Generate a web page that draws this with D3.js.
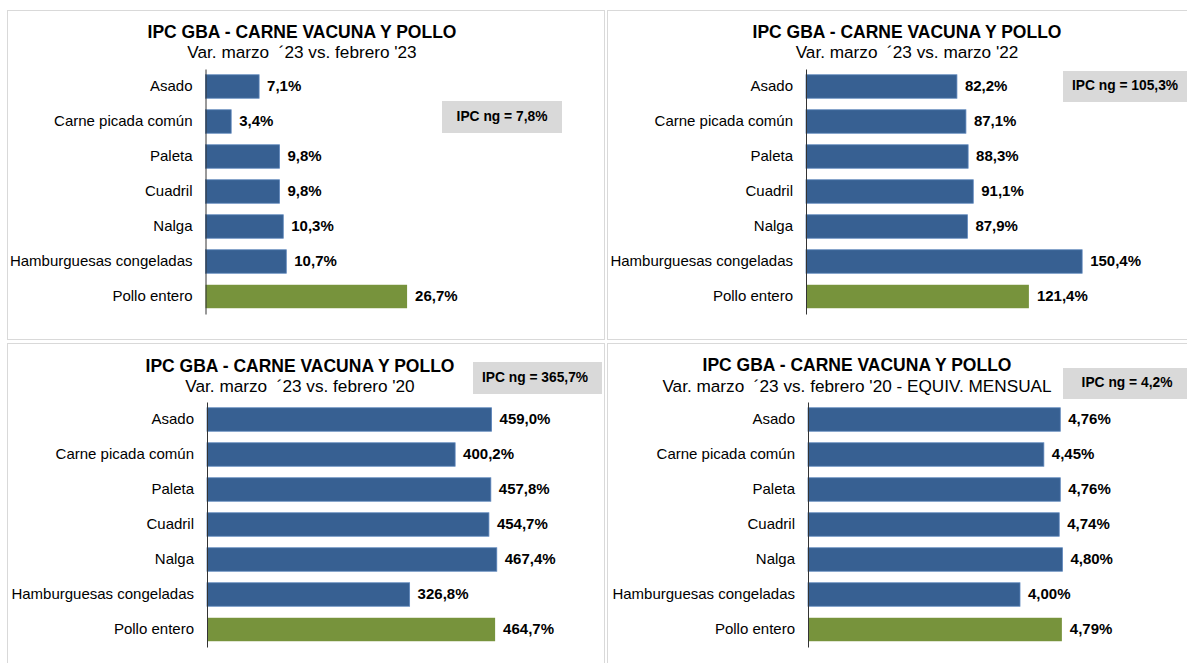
<!DOCTYPE html>
<html><head><meta charset="utf-8">
<script src="https://cdn.jsdelivr.net/npm/d3@7"></script>
<style>
body{margin:0;background:#fff;}
svg{display:block;font-family:"Liberation Sans",Arial,sans-serif;}
</style></head>
<body>
<svg id="c" width="1187" height="663"></svg>
<script>
const categories = ["Asado","Carne picada común","Paleta","Cuadril","Nalga","Hamburguesas congeladas","Pollo entero"];
const valsFeb23 = [7.1, 3.4, 9.8, 9.8, 10.3, 10.7, 26.7];
const valsMar22 = [82.2, 87.1, 88.3, 91.1, 87.9, 150.4, 121.4];
const valsFeb20 = [459.0, 400.2, 457.8, 454.7, 467.4, 326.8, 464.7];
const valsMensual = [4.76, 4.45, 4.76, 4.74, 4.80, 4.00, 4.79];
const title = "IPC GBA - CARNE VACUNA Y POLLO";
const subtitles = ["Var. marzo  ´23 vs. febrero '23","Var. marzo  ´23 vs. marzo '22","Var. marzo  ´23 vs. febrero '20","Var. marzo  ´23 vs. febrero '20 - EQUIV. MENSUAL"];
const ipcLabels = ["IPC ng = 7,8%","IPC ng = 105,3%","IPC ng = 365,7%","IPC ng = 4,2%"];
const decimals = [1,1,1,2];

const panels = [
  {vals: valsFeb23, box:[7.5,10.5,597,329], axisX:205.5, dmax:30, pxPer:7.55, y0:69, titleX:302, titleY:37.5, subY:58, ipc:[442,101,120,32], ipcX:502, ipcY:117},
  {vals: valsMar22, box:[607.5,10.5,600,329], axisX:806, dmax:160, pxPer:1.836, y0:69, titleX:907, titleY:37.5, subY:58, ipc:[1063,71,130,31], ipcX:1125, ipcY:86.5},
  {vals: valsFeb20, box:[7.5,343.5,597,330], axisX:207, dmax:500, pxPer:0.62, y0:402, titleX:300, titleY:371.5, subY:392, ipc:[473,362,129,32], ipcX:535, ipcY:378},
  {vals: valsMensual, box:[607.5,343.5,600,330], axisX:808, dmax:5, pxPer:53, y0:402, titleX:857, titleY:371, subY:392, ipc:[1063,368,130,31], ipcX:1127, ipcY:383.5}
];

const svg = d3.select("#c");
const blue = "#376092", green = "#77933c";

panels.forEach((p, i) => {
  const g = svg.append("g");
  g.append("rect").attr("x",p.box[0]).attr("y",p.box[1]).attr("width",p.box[2]).attr("height",p.box[3])
    .attr("fill","#fff").attr("stroke","#d9d9d9").attr("stroke-width",1);

  const x = d3.scaleLinear().domain([0,p.dmax]).range([p.axisX, p.axisX + p.dmax*p.pxPer]);
  const y = d3.scaleBand().domain(categories).range([p.y0, p.y0+245]).paddingInner(0.33).paddingOuter(0.165);

  g.append("text").attr("x",p.titleX).attr("y",p.titleY).attr("text-anchor","middle")
    .attr("font-weight","bold").attr("font-size","17.5px").attr("fill","#000").text(title);
  g.append("text").attr("x",p.titleX).attr("y",p.subY).attr("text-anchor","middle")
    .attr("font-size","17.2px").attr("fill","#000").style("white-space","pre").text(subtitles[i]);

  g.append("rect").attr("x",p.ipc[0]).attr("y",p.ipc[1]).attr("width",p.ipc[2]).attr("height",p.ipc[3]).attr("fill","#d9d9d9");
  g.append("text").attr("x",p.ipcX).attr("y",p.ipcY).attr("text-anchor","middle").attr("dominant-baseline","middle")
    .attr("font-weight","bold").attr("font-size","13.8px").attr("fill","#000")
    .attr("transform",`translate(0,${p.ipcY}) scale(1,1.08) translate(0,${-p.ipcY})`).text(ipcLabels[i]);

  const data = categories.map((c,k)=>({c, v:p.vals[k], k}));
  g.selectAll("rect.bar").data(data).join("rect").attr("class","bar")
    .attr("x", x(0)).attr("y", d=>y(d.c)).attr("width", d=>x(d.v)-x(0)).attr("height", y.bandwidth())
    .attr("fill", d=> d.c==="Pollo entero" ? green : blue)
    .attr("stroke", d=> d.c==="Pollo entero" ? "none" : "#5b84bb").attr("stroke-width",0.8);

  const fmt = d3.format("." + decimals[i] + "f");
  g.selectAll("text.val").data(data).join("text").attr("class","val")
    .attr("x", d=>x(d.v)+8).attr("y", d=>y(d.c)+y.bandwidth()/2+1).attr("dominant-baseline","middle")
    .attr("font-weight","bold").attr("font-size","15px").attr("fill","#000")
    .text(d=>fmt(d.v).replace(".",",")+"%");

  const ax = d3.axisLeft(y).tickSize(0).tickPadding(13);
  const axg = g.append("g").attr("transform",`translate(${p.axisX},0)`).call(ax);
  axg.select(".domain").attr("stroke","#333").attr("stroke-width",1);
  axg.selectAll(".tick text").attr("font-size","15px").attr("fill","#000")
    .attr("font-family",'"Liberation Sans",Arial,sans-serif');
});
</script>
</body></html>
